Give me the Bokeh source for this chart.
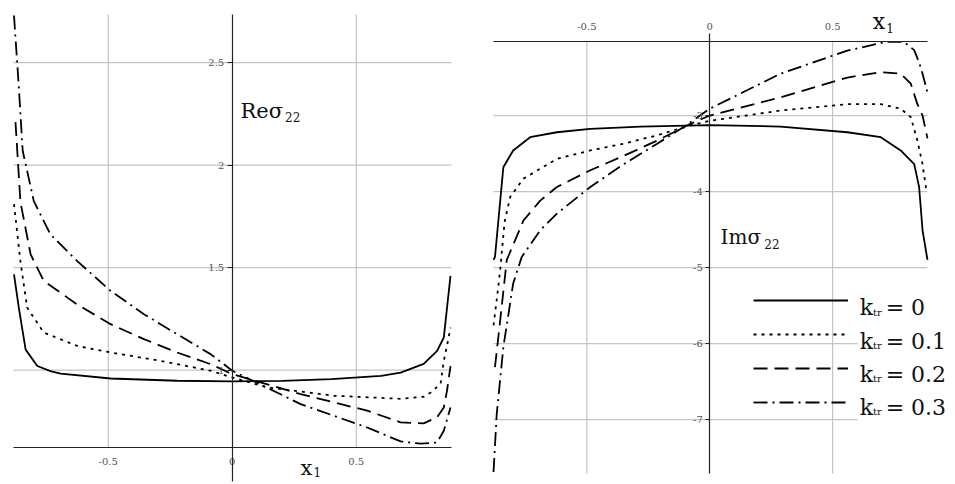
from bokeh.plotting import figure
from bokeh.layouts import row
from bokeh.models import FixedTicker, Label, Legend, LegendItem, Range1d, BoxAnnotation
from bokeh.embed import file_html
from bokeh.resources import INLINE

# ---------------- data: Re sigma_22 (left panel) ----------------
re_x_k0 = [-0.88, -0.86, -0.833, -0.786, -0.733, -0.692, -0.49, -0.222, 0.0, 0.2, 0.4, 0.6, 0.679, 0.772, 0.826, 0.853, 0.88]
re_y_k0 = [1.467, 1.30, 1.10, 1.02, 0.995, 0.983, 0.959, 0.948, 0.945, 0.947, 0.956, 0.972, 0.988, 1.03, 1.094, 1.159, 1.46]

re_x_k1 = [-0.88, -0.854, -0.827, -0.76, -0.625, -0.49, -0.289, -0.0875, 0.0, 0.141, 0.41, 0.679, 0.772, 0.80, 0.84, 0.853, 0.866, 0.88]
re_y_k1 = [1.81, 1.53, 1.305, 1.183, 1.118, 1.086, 1.045, 0.997, 0.964, 0.916, 0.875, 0.86, 0.87, 0.891, 0.933, 1.045, 1.12, 1.207]

re_x_k2 = [-0.874, -0.854, -0.813, -0.76, -0.625, -0.49, -0.356, -0.222, -0.0875, 0.0, 0.276, 0.544, 0.679, 0.772, 0.826, 0.853, 0.866, 0.88]
re_y_k2 = [2.21, 1.82, 1.565, 1.435, 1.32, 1.224, 1.151, 1.086, 1.029, 0.98, 0.883, 0.802, 0.745, 0.74, 0.77, 0.818, 0.90, 1.02]

re_x_k3 = [-0.88, -0.861, -0.845, -0.8, -0.733, -0.625, -0.49, -0.356, -0.222, -0.0875, 0.0, 0.276, 0.544, 0.679, 0.76, 0.826, 0.853, 0.88]
re_y_k3 = [2.73, 2.39, 2.07, 1.824, 1.662, 1.532, 1.386, 1.273, 1.175, 1.078, 0.997, 0.834, 0.72, 0.652, 0.641, 0.647, 0.704, 0.818]

# ---------------- data: Im sigma_22 (right panel) ----------------
im_x_k0 = [-0.88, -0.874, -0.84, -0.8, -0.731, -0.622, -0.486, -0.282, 0.0, 0.288, 0.56, 0.696, 0.777, 0.832, 0.852, 0.866, 0.886]
im_y_k0 = [-4.9, -4.86, -3.68, -3.46, -3.285, -3.22, -3.175, -3.145, -3.125, -3.145, -3.22, -3.285, -3.46, -3.64, -3.94, -4.51, -4.9]

im_x_k1 = [-0.88, -0.866, -0.853, -0.835, -0.812, -0.758, -0.622, -0.486, -0.35, -0.214, -0.079, 0.0, 0.288, 0.56, 0.696, 0.777, 0.818, 0.845, 0.866, 0.882]
im_y_k1 = [-5.76, -5.4, -5.04, -4.4, -4.07, -3.83, -3.57, -3.46, -3.37, -3.26, -3.13, -3.07, -2.934, -2.85, -2.85, -2.91, -3.02, -3.33, -3.64, -4.0]

im_x_k2 = [-0.874, -0.853, -0.826, -0.758, -0.69, -0.622, -0.486, -0.35, -0.214, -0.079, 0.0, 0.288, 0.56, 0.696, 0.777, 0.818, 0.845, 0.866, 0.886]
im_y_k2 = [-6.31, -5.70, -4.9, -4.38, -4.12, -3.94, -3.72, -3.53, -3.33, -3.11, -3.0, -2.76, -2.5, -2.43, -2.45, -2.58, -2.85, -3.0, -3.3]

im_x_k3 = [-0.88, -0.867, -0.84, -0.8, -0.765, -0.69, -0.622, -0.486, -0.35, -0.214, -0.106, 0.0, 0.288, 0.56, 0.72, 0.79, 0.832, 0.853, 0.866, 0.886]
im_y_k3 = [-7.69, -6.93, -6.05, -5.21, -4.86, -4.51, -4.29, -3.94, -3.64, -3.37, -3.15, -2.91, -2.45, -2.145, -2.03, -2.03, -2.14, -2.31, -2.45, -2.7]

# ---------------- ticks / labels ----------------
x_ticks = [-0.5, 0.0, 0.5]
x_tick_labels = ["-0.5", "0", "0.5"]
x_grid = [-0.5, 0.5]
re_y_ticks = [1.0, 1.5, 2.0, 2.5]
re_y_tick_labels = ["1", "1.5", "2", "2.5"]
im_y_ticks = [-7.0, -6.0, -5.0, -4.0, -3.0]
im_y_tick_labels = ["-7", "-6", "-5", "-4", "-3"]
k_values = ["0", "0.1", "0.2", "0.3"]

# plotting boxes (extent of axes / grid of each panel) and figure view ranges
RE_BOX = (-0.882, 0.884, 0.622, 2.735)
RE_VIEW = (-0.9344, 0.9929, 0.4419, 2.8032)
IM_BOX = (-0.88, 0.886, -7.71, -2.022)
IM_VIEW = (-0.9411, 1.0001, -7.8547, -1.4865)

SERIF = "DejaVu Serif"
GRID = "#c4c4c4"
AX = "#222222"
TICKC = "#555555"
TXT = "#111111"
dashes = ["solid", "3 5", "14 7", "14 5 2 5"]
LW = 1.8


def style_axis(ax, ticks, labels, standoff, tick_out, loc, bounds):
    ax.ticker = FixedTicker(ticks=ticks)
    ax.major_label_overrides = {t: l for t, l in zip(ticks, labels)}
    ax.minor_tick_line_color = None
    ax.major_tick_in = 0
    ax.major_tick_out = tick_out
    ax.major_tick_line_color = AX
    ax.axis_line_color = AX
    ax.axis_line_width = 1.2
    ax.major_label_text_font = SERIF
    ax.major_label_text_font_size = "10px"
    ax.major_label_text_color = TICKC
    ax.major_label_standoff = standoff
    ax.fixed_location = loc
    ax.bounds = bounds


def make_fig(width, view, x_loc):
    p = figure(width=width, height=484, output_backend="svg", toolbar_location=None,
               x_range=Range1d(view[0], view[1]), y_range=Range1d(view[2], view[3]),
               x_axis_location=x_loc, min_border=0,
               min_border_left=0, min_border_right=0, min_border_top=0, min_border_bottom=0)
    p.outline_line_color = None
    p.grid.visible = False
    return p


def draw_grid(p, box, xg, yg):
    x0, x1, y0, y1 = box
    p.segment(x0=xg, y0=[y0] * len(xg), x1=xg, y1=[y1] * len(xg),
              line_color=GRID, line_width=1.2)
    p.segment(x0=[x0] * len(yg), y0=yg, x1=[x1] * len(yg), y1=yg,
              line_color=GRID, line_width=1.2)


def txt(p, x, y, s, size):
    p.add_layout(Label(x=x, y=y, text=s, text_font=SERIF, text_font_size=size,
                       text_color=TXT, text_baseline="alphabetic"))


# ---------------- left figure ----------------
p1 = make_fig(478, RE_VIEW, "below")
draw_grid(p1, RE_BOX, x_grid, re_y_ticks)
style_axis(p1.xaxis[0], x_ticks, x_tick_labels, 10, 0, RE_BOX[2], (RE_BOX[0], RE_BOX[1]))
style_axis(p1.yaxis[0], re_y_ticks, re_y_tick_labels, 3, 5, 0, (0.455, RE_BOX[3]))

re_series = [(re_x_k0, re_y_k0), (re_x_k1, re_y_k1), (re_x_k2, re_y_k2), (re_x_k3, re_y_k3)]
for (xs, ys), d in zip(re_series, dashes):
    p1.line(xs, ys, line_color="black", line_width=LW, line_dash=d)

txt(p1, 0.033, 2.266, "Reσ", "21px")
txt(p1, 0.213, 2.235, "22", "12px")
txt(p1, 0.275, 0.52, "x", "21px")
txt(p1, 0.328, 0.503, "1", "12px")

# ---------------- right figure ----------------
p2 = make_fig(477, IM_VIEW, "above")
draw_grid(p2, IM_BOX, x_grid, im_y_ticks)
style_axis(p2.xaxis[0], x_ticks, x_tick_labels, 11, 0, IM_BOX[3], (IM_BOX[0], IM_BOX[1]))
style_axis(p2.yaxis[0], im_y_ticks, im_y_tick_labels, 3, 4, 0, (IM_BOX[2], -1.92))

im_series = [(im_x_k0, im_y_k0), (im_x_k1, im_y_k1), (im_x_k2, im_y_k2), (im_x_k3, im_y_k3)]
items = []
for (xs, ys), d in zip(im_series, dashes):
    r = p2.line(xs, ys, line_color="black", line_width=LW, line_dash=d)
    items.append(LegendItem(label=" ", renderers=[r]))

# white backing behind the legend texts (hides the grid there, as in the original)
p2.add_layout(BoxAnnotation(left=0.602, right=1.0, top=-5.21, bottom=-7.145,
                            fill_color="white", fill_alpha=1.0, line_color=None))

legend = Legend(items=items, location=(275, 72), glyph_width=95, glyph_height=20,
                spacing=14, padding=0, margin=0, label_width=0, label_standoff=0,
                label_height=20, label_text_font_size="1px",
                border_line_color=None, background_fill_alpha=0)
p2.add_layout(legend)

txt(p2, 0.044, -4.601, "Imσ", "20px")
txt(p2, 0.222, -4.69, "22", "12px")
txt(p2, 0.663, -1.763, "x", "22px")
txt(p2, 0.718, -1.842, "1", "12px")

# legend texts: k_tr = value
row_base = [-5.526, -5.970, -6.401, -6.838]
for yb, kv in zip(row_base, k_values):
    txt(p2, 0.610, yb, "k", "22px")
    txt(p2, 0.664, yb - 0.06, "tr", "10px")
    txt(p2, 0.716, yb, "= " + kv, "22px")

layout = row(p1, p2)
open("out.html", "w").write(file_html(layout, INLINE))
